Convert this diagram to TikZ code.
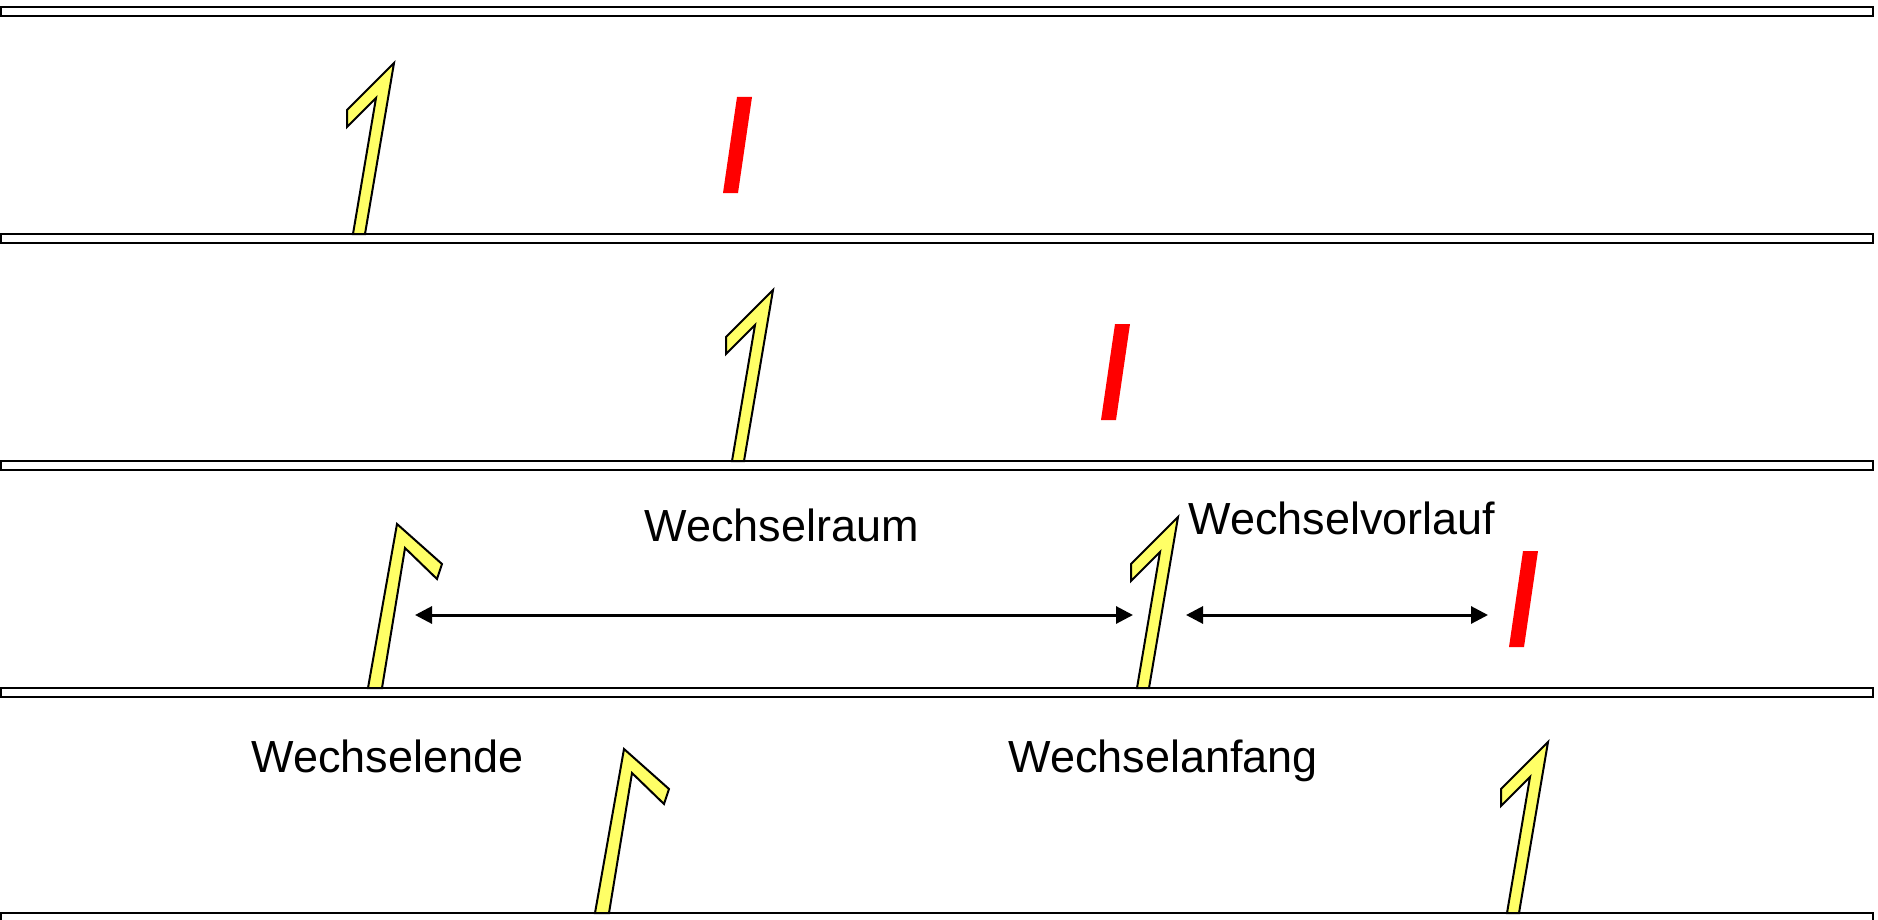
\documentclass[tikz,border=0pt]{standalone}
\usepackage{fontspec}
\setmainfont{Liberation Sans}
\usetikzlibrary{arrows.meta}
\definecolor{flagyellow}{RGB}{255,255,102}
\begin{document}
\begin{tikzpicture}[x=0.5pt,y=-0.5pt,
  rail/.style={draw=black,fill=white,line width=1pt},
  flagshape/.style={draw=black,fill=flagyellow,line width=1pt,line join=miter},
  redmark/.style={fill=red,draw=none},
  dimarrow/.style={line width=1.5pt,{Triangle[length=8.5pt,width=8.5pt]}-{Triangle[length=8.5pt,width=8.5pt]}},
  lbl/.style={anchor=base west,inner sep=0pt,font=\fontsize{22.5}{27}\selectfont},
  flagseven/.pic={\draw[flagshape] (0,0) -- (12,0) -- (41,-171) -- (-6,-124) -- (-6,-107) -- (23,-136) -- cycle;},
  flaggamma/.pic={\draw[flagshape] (0,0) -- (29,-164) -- (74,-124) -- (69,-109) -- (37,-140) -- (14,0) -- cycle;},
  redpic/.pic={\fill[redmark] (0,0) -- (15,0) -- (29,-96) -- (14,-96) -- cycle;}]
\useasboundingbox (0,0) rectangle (1878,920);
% rails
\foreach \y in {7,234,461,688,913} \draw[rail] (1,\y) rectangle (1873,\y+9);
% row 1
\pic at (353,234) {flagseven};
\pic at (723,193) {redpic};
% row 2
\pic at (732,461) {flagseven};
\pic at (1101,420) {redpic};
% row 3
\pic at (368,688) {flaggamma};
\pic at (1137,688) {flagseven};
\pic at (1509,647) {redpic};
% row 4
\pic at (595,913) {flaggamma};
\pic at (1507,913) {flagseven};
% arrows
\coordinate (raumL) at (415,615);
\coordinate (raumR) at (1133,615);
\coordinate (vorL) at (1186,615);
\coordinate (vorR) at (1488,615);
\draw[dimarrow] (raumL) -- (raumR);
\draw[dimarrow] (vorL) -- (vorR);
% labels
\node[lbl] (raum) at (644,541) {Wechselraum};
\node[lbl] (vor) at (1188,534) {Wechselvorlauf};
\node[lbl] (ende) at (251,772) {Wechselende};
\node[lbl] (anfang) at (1008,772) {Wechselanfang};
\end{tikzpicture}
\end{document}
